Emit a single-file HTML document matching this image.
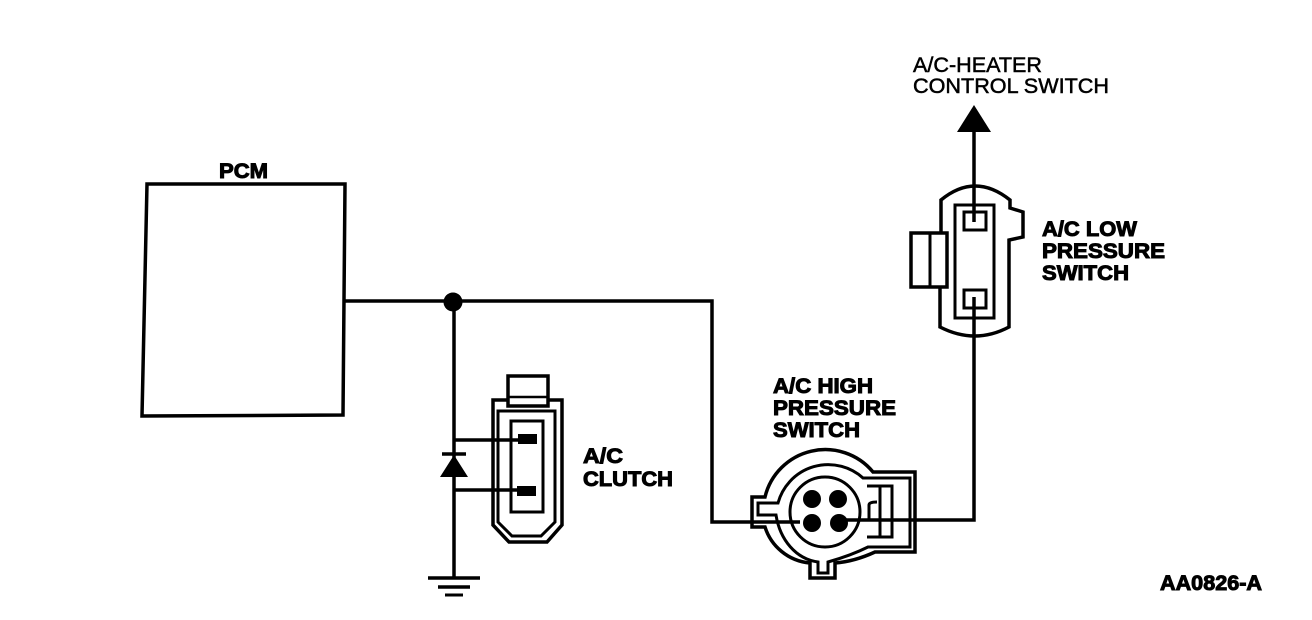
<!DOCTYPE html>
<html>
<head>
<meta charset="utf-8">
<style>
html,body{margin:0;padding:0;background:#fff;}
svg{display:block;}
text{font-family:"Liberation Sans",sans-serif;fill:#000;}
.b{font-weight:bold;font-size:21px;stroke:#000;stroke-width:1px;}
.r{font-size:21px;stroke:#000;stroke-width:.5px;}
</style>
</head>
<body>
<svg width="1312" height="620" viewBox="0 0 1312 620" xmlns="http://www.w3.org/2000/svg">
<rect width="1312" height="620" fill="#fff"/>
<g fill="none" stroke="#000" stroke-width="3.5" stroke-linejoin="miter">
  <!-- PCM -->
  <path d="M147 184 L345 184 L343 415 L142 416 Z"/>
  <!-- main wires -->
  <path d="M345 301 H712 V522 H800"/>
  <path d="M454 301 V577"/>
  <path d="M840 520 H974 V297"/>
  <path d="M974 222 V130"/>
  <!-- ground -->
  <path d="M428 578 H480"/>
  <path d="M438 587 H470"/>
  <path d="M445 595 H463" stroke-width="3"/>
  <!-- diode bar -->
  <path d="M442 454 H466"/>
  <!-- clutch -->
  <path d="M454 440 H520"/>
  <path d="M454 490 H520"/>
  <path d="M493 400 H562 V525 L547 542 H509 L493 525 Z"/>
  <path d="M498 411 H555 V522 L541 536 H512 L498 522 Z" stroke-width="3"/>
  <path d="M511 421 H543 V512 H511 Z" stroke-width="3"/>
  <rect x="508" y="376" width="40" height="30" fill="#fff"/>
  <path d="M508 397 H548" stroke-width="2.5"/>
  <!-- low pressure switch -->
  <path d="M911 233 H947 V287 H911 Z"/>
  <path d="M930 233 V287" stroke-width="3"/>
  <path d="M941 233 V200 Q975 172 1010 200 V208 L1023 212 V237 L1009 240 V327 Q975 345 940 327 V287"/>
  <rect x="955" y="205" width="39" height="113" stroke-width="3"/>
  <rect x="964" y="212" width="22" height="18" stroke-width="3"/>
  <rect x="964" y="290" width="22" height="18" stroke-width="3"/>
  <!-- high pressure switch -->
  <path d="M873 472 H915 V552 H875 C862 558 848 562 835 563 V578 H810 V563 C788 561 771 546 765 527 H752 V497 H765 A62 62 0 0 1 873 472 Z"/>
  <path d="M863 478 H910 V547 H868 C856 553 842 558 828 562 V573 H818 V562 C796 559 780 540 776 515 H758 V503 H778 A52 52 0 0 1 863 478 Z" stroke-width="3"/>
  <path d="M867 486 H892 V537 H867" stroke-width="3"/>
  <path d="M880 486 V537" stroke-width="3"/>
  <path d="M869 520 V505 Q869 502 877 502" stroke-width="3"/>
  <circle cx="825" cy="512" r="35" stroke-width="3"/>
</g>
<g fill="#000">
  <circle cx="453" cy="302" r="9.5"/>
  <path d="M454 455 L440 477 H468 Z"/>
  <rect x="518" y="434" width="19" height="10"/>
  <rect x="517" y="486" width="19" height="10"/>
  <path d="M974 105 L957 132 H991 Z"/>
  <circle cx="812" cy="499" r="9"/>
  <circle cx="838" cy="499" r="9"/>
  <circle cx="812" cy="523" r="9"/>
  <circle cx="839" cy="523" r="9"/>
</g>
<text class="b" x="219" y="178" textLength="49" lengthAdjust="spacingAndGlyphs">PCM</text>
<text class="r" x="913" y="72" textLength="129" lengthAdjust="spacingAndGlyphs">A/C-HEATER</text>
<text class="r" x="913" y="93" textLength="196" lengthAdjust="spacingAndGlyphs">CONTROL SWITCH</text>
<text class="b" x="1042" y="236" textLength="95" lengthAdjust="spacingAndGlyphs">A/C LOW</text>
<text class="b" x="1042" y="258" textLength="123" lengthAdjust="spacingAndGlyphs">PRESSURE</text>
<text class="b" x="1042" y="280" textLength="87" lengthAdjust="spacingAndGlyphs">SWITCH</text>
<text class="b" x="773" y="393" textLength="100" lengthAdjust="spacingAndGlyphs">A/C HIGH</text>
<text class="b" x="773" y="415" textLength="123" lengthAdjust="spacingAndGlyphs">PRESSURE</text>
<text class="b" x="773" y="437" textLength="87" lengthAdjust="spacingAndGlyphs">SWITCH</text>
<text class="b" x="583" y="463" textLength="40" lengthAdjust="spacingAndGlyphs">A/C</text>
<text class="b" x="583" y="486" textLength="90" lengthAdjust="spacingAndGlyphs">CLUTCH</text>
<text class="b" x="1160" y="590" textLength="102" lengthAdjust="spacingAndGlyphs">AA0826-A</text>
</svg>
</body>
</html>
